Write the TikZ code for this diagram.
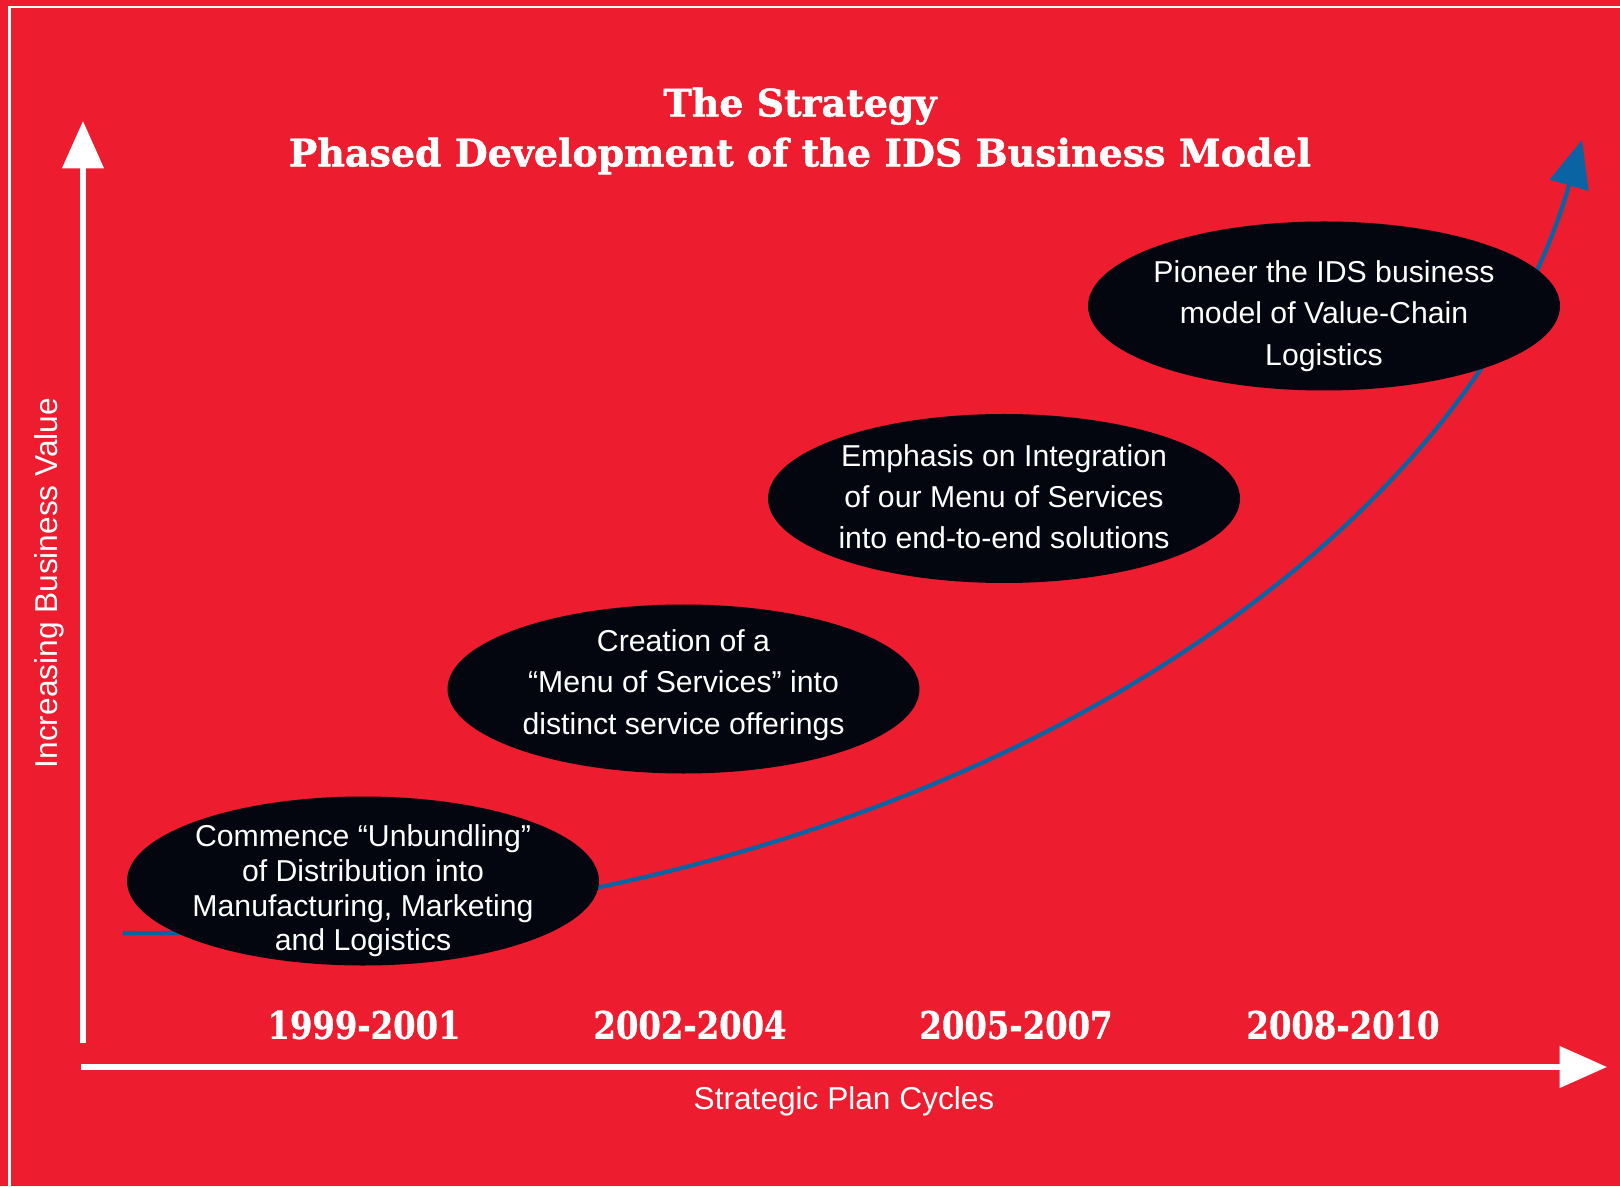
\documentclass[tikz,border=0pt]{standalone}
\usepackage{fontspec}
\setmainfont{Liberation Sans}
\newfontfamily\slabfont{DejaVu Serif}[FakeBold=1.2]
\newfontfamily\slabnarrow{DejaVu Serif}[FakeStretch=0.85,FakeBold=0.8]
\usepackage{xcolor}
\usepackage{tikz}
\usetikzlibrary{arrows.meta,shapes.geometric}
\definecolor{idsRed}{HTML}{ED1C2E}
\definecolor{idsInk}{HTML}{03060F}
\definecolor{idsBlue}{HTML}{0A63A3}
\tikzset{
  % Black phase ellipse
  phase/.style={ellipse,fill=idsInk,
    minimum width=4.72cm,minimum height=1.69cm,inner sep=0pt},
  % Text set on a phase
  phasetext/.style={align=center,text=white,
    font=\fontsize{8.6}{11.75}\selectfont},
  % Heading
  heading/.style={align=center,text=white,
    font=\slabfont\bfseries\fontsize{10.8}{14.2}\selectfont},
  % Period label along the x axis
  period/.style={text=white,font=\slabnarrow\bfseries\fontsize{10.8}{12}\selectfont},
  % Axis caption
  axlbl/.style={text=white,font=\fontsize{9}{11}\selectfont},
  % Arrows
  axisarr/.style={-{Triangle[length=13.5pt,width=11.6pt]},line width=1.5pt,white},
  growth/.style={-{Triangle[length=13.4pt,width=11.3pt]},line width=1.2pt,idsBlue},
}

\begin{document}
\begin{tikzpicture}
  \fill[idsRed] (0,0) rectangle (16.2,11.86);
  \useasboundingbox (0,0) rectangle (16.2,11.86);
  % Frame, only the top and left edges fall on the page
  \draw[white,line width=0.6pt] (0.095,0) |- (16.2,11.79);

  % Heading
  \node[heading] (title) at (8.0,10.55)
    {The Strategy\\Phased Development of the IDS Business Model};

  % Axes
  \coordinate (ybot) at (0.83,1.43);
  \coordinate (ytop) at (0.83,10.65);
  \coordinate (xleft) at (0.81,1.19);
  \coordinate (xright) at (16.07,1.19);
  \draw[axisarr] (ybot) -- (ytop);
  \draw[axisarr] (xleft) -- (xright);
  \node[axlbl,rotate=90] (vlabel) at (0.495,6.03) {Increasing Business Value};
  \node[axlbl] (hlabel) at (8.44,0.85) {Strategic Plan Cycles};

  % Plan cycles
  \node[period] (c1) at (3.64,1.61) {1999-2001};
  \node[period] (c2) at (6.90,1.61) {2002-2004};
  \node[period] (c3) at (10.16,1.61) {2005-2007};
  \node[period] (c4) at (13.43,1.61) {2008-2010};

  % Growth curve, runs behind the phases
  \coordinate (gstart) at (1.23,2.53);
  \coordinate (gend) at (15.82,10.46);
  \draw[growth] (gstart) .. controls (9.0,2.45) and (14.6,6.2) .. (gend);

  % Phases
  \node[phase] (p1) at (3.63,3.05) {};
  \node[phasetext,font=\fontsize{8.6}{9.85}\selectfont] (t1) at ([yshift=-0.1cm]p1)
    {Commence “Unbundling”\\of Distribution into\\Manufacturing, Marketing\\and Logistics};
  \node[phase] (p2) at (6.835,4.97) {};
  \node[phasetext] (t2) at ([yshift=0.04cm]p2)
    {Creation of a\\“Menu of Services” into\\distinct service offerings};
  \node[phase] (p3) at (10.04,6.875) {};
  \node[phasetext] (t3) at ([yshift=0.02cm]p3)
    {Emphasis on Integration\\of our Menu of Services\\into end-to-end solutions};
  \node[phase] (p4) at (13.24,8.80) {};
  \node[phasetext] (t4) at ([yshift=-0.1cm]p4)
    {Pioneer the IDS business\\model of Value-Chain\\Logistics};
\end{tikzpicture}
\end{document}
